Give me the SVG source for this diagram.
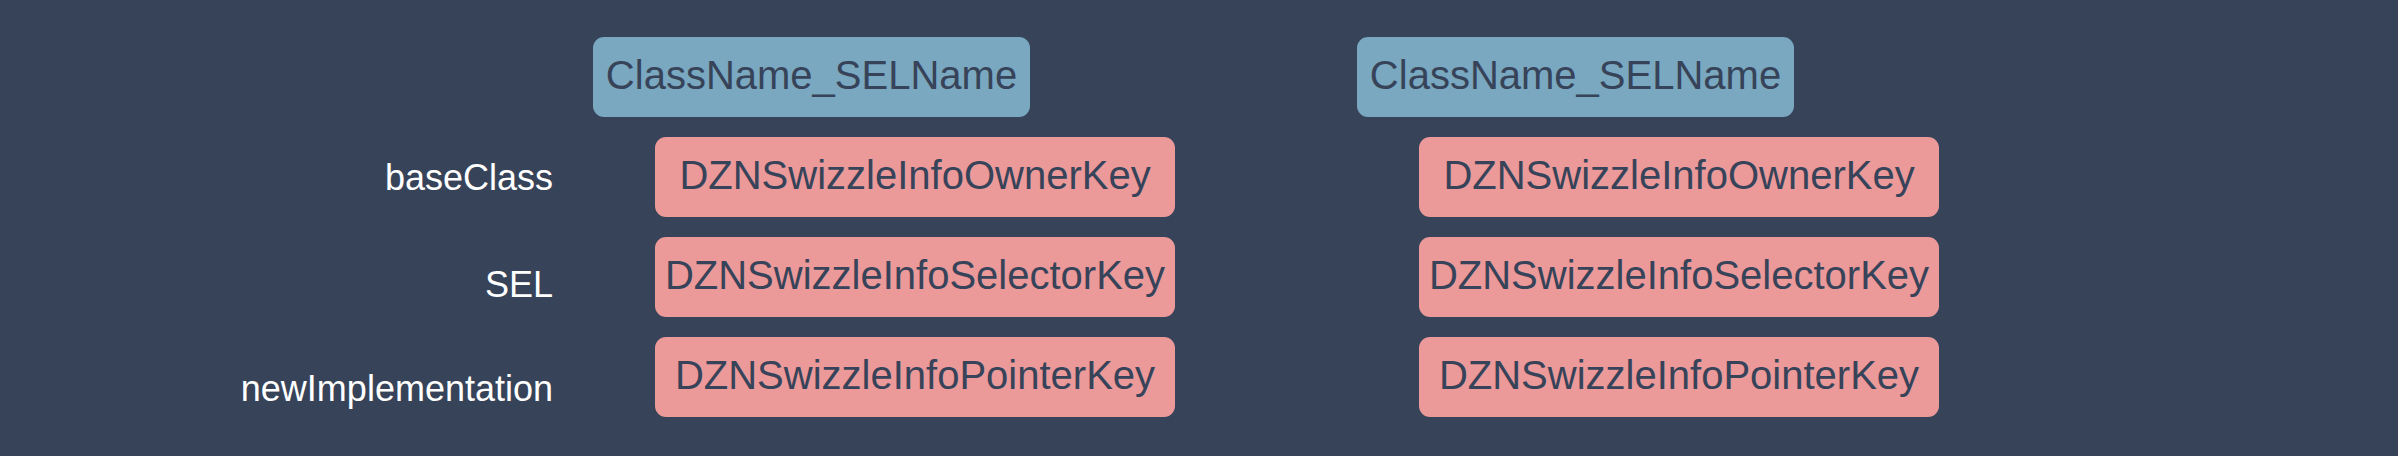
<svg xmlns="http://www.w3.org/2000/svg" width="2398" height="456" viewBox="0 0 2398 456">
<style>
.bg{fill:#374359}
.hdr{fill:#79a8c0}
.key{fill:#eb9999}
.bt{font-family:"Liberation Sans",Arial,sans-serif;font-size:40px;fill:#374359;text-anchor:middle}
.lbl{font-family:"Liberation Sans",Arial,sans-serif;font-size:36px;fill:#ffffff;text-anchor:end}
</style>
<rect class="bg" x="0" y="0" width="2398" height="456"/>
<g id="labels">
<text class="lbl" x="553" y="190">baseClass</text>
<text class="lbl" x="553" y="297">SEL</text>
<text class="lbl" x="553" y="401">newImplementation</text>
</g>
<g id="left-header"><rect class="hdr" x="593" y="37" width="437" height="80" rx="11"/><text class="bt" x="811.5" y="89">ClassName_SELName</text></g>
<g id="left-owner"><rect class="key" x="655" y="137" width="520" height="80" rx="11"/><text class="bt" x="915" y="189">DZNSwizzleInfoOwnerKey</text></g>
<g id="left-selector"><rect class="key" x="655" y="237" width="520" height="80" rx="11"/><text class="bt" x="915" y="289">DZNSwizzleInfoSelectorKey</text></g>
<g id="left-pointer"><rect class="key" x="655" y="337" width="520" height="80" rx="11"/><text class="bt" x="915" y="389">DZNSwizzleInfoPointerKey</text></g>
<g id="right-header"><rect class="hdr" x="1357" y="37" width="437" height="80" rx="11"/><text class="bt" x="1575.5" y="89">ClassName_SELName</text></g>
<g id="right-owner"><rect class="key" x="1419" y="137" width="520" height="80" rx="11"/><text class="bt" x="1679" y="189">DZNSwizzleInfoOwnerKey</text></g>
<g id="right-selector"><rect class="key" x="1419" y="237" width="520" height="80" rx="11"/><text class="bt" x="1679" y="289">DZNSwizzleInfoSelectorKey</text></g>
<g id="right-pointer"><rect class="key" x="1419" y="337" width="520" height="80" rx="11"/><text class="bt" x="1679" y="389">DZNSwizzleInfoPointerKey</text></g>
<g id="connectors"/>
</svg>
